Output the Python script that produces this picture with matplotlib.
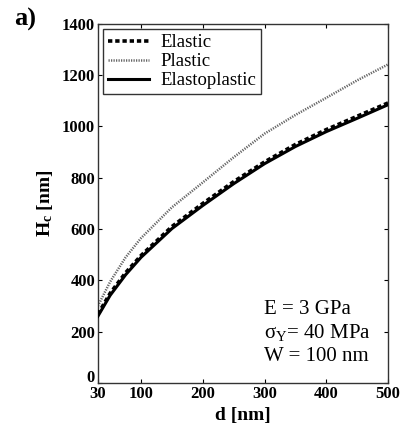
import matplotlib
matplotlib.use("Agg")
import matplotlib.pyplot as plt
from matplotlib.transforms import ScaledTranslation

d = [30, 50, 75, 100, 150, 200, 250, 300, 350, 400, 450, 500]
elastic = [268, 350, 430, 497, 610, 700, 785, 862, 930, 988, 1040, 1092]
plastic = [300, 395, 490, 565, 685, 782, 880, 972, 1045, 1112, 1180, 1242]
elastoplastic = [260, 342, 422, 490, 602, 692, 777, 855, 922, 980, 1032, 1085]

xticks = [30, 100, 200, 300, 400, 500]
yticks = [0, 200, 400, 600, 800, 1000, 1200, 1400]

plt.rcParams['font.family'] = ['Liberation Serif', 'DejaVu Serif']
plt.rcParams['mathtext.fontset'] = 'custom'
plt.rcParams['mathtext.rm'] = 'Liberation Serif'
plt.rcParams['mathtext.it'] = 'Liberation Serif:italic'
plt.rcParams['mathtext.bf'] = 'Liberation Serif:bold'

fig = plt.figure(figsize=(4.01, 4.26), dpi=100)
ax = fig.add_axes([0.244, 0.101, 0.724, 0.843])

ax.plot(d, plastic, color='#666666', lw=1.8, ls=(0, (0.5, 0.5)), label='Plastic', zorder=2)
ax.plot(d, elastoplastic, color='black', lw=2.2, ls='-', label='Elastoplastic', zorder=3)
ax.plot(d, elastic, color='black', lw=2.6, ls=(0, (1.2, 0.8)), label='Elastic', zorder=4)

ax.set_xlim(30, 500)
ax.set_ylim(0, 1400)
ax.set_xticks(xticks)
ax.set_yticks(yticks)
ax.tick_params(direction='in', top=True, right=True, length=3, width=0.8, labelsize=12, pad=2)
for lab in ax.get_xticklabels() + ax.get_yticklabels():
    lab.set_fontweight('bold')
for s in ax.spines.values():
    s.set_linewidth(1.0)
    s.set_color('#333333')

# nudge the "0" y label up so it sits just above the "30" x label
ylabs = ax.get_yticklabels()
ylabs[0].set_transform(ylabs[0].get_transform() + ScaledTranslation(0, 5 / 72, fig.dpi_scale_trans))

ax.set_xlabel('d [nm]', fontsize=14, fontweight='bold', labelpad=4)
ax.set_ylabel(r'H$_\mathbf{c}$ [nm]', fontsize=14, fontweight='bold', labelpad=5)

handles, labels = ax.get_legend_handles_labels()
order = [2, 0, 1]
leg = ax.legend([handles[i] for i in order], [labels[i] for i in order],
                loc='upper left', fontsize=13.5, frameon=True, fancybox=False,
                edgecolor='black', handlelength=2.2, handletextpad=0.6,
                borderaxespad=0.3, labelspacing=0.1, borderpad=0.25)
leg.get_frame().set_linewidth(1.0)

ax.text(0.574, 0.205, 'E = 3 GPa', transform=ax.transAxes, fontsize=15, va='center', ha='left')
ax.text(0.574, 0.14, r'σ$_\mathrm{Y}$= 40 MPa', transform=ax.transAxes, fontsize=15, va='center', ha='left')
ax.text(0.574, 0.075, 'W = 100 nm', transform=ax.transAxes, fontsize=15, va='center', ha='left')

fig.text(0.035, 0.955, 'a)', fontsize=19, fontweight='bold', ha='left', va='center')

fig.savefig('out.png', dpi=100)
